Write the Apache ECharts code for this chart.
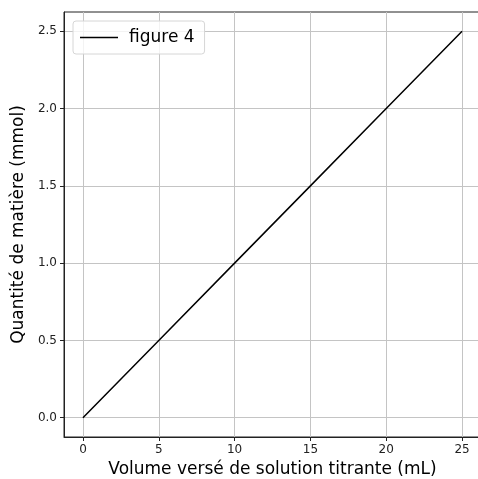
<!DOCTYPE html>
<html>
<head>
<meta charset="utf-8">
<script src="https://cdn.jsdelivr.net/npm/echarts@6/dist/echarts.min.js"></script>
<style>
  html, body { margin: 0; padding: 0; background: #fff; }
  #chart { width: 478px; height: 479px; }
</style>
</head>
<body>
<div id="chart"></div>
<script>
// données
const volume = [0, 5, 10, 15, 20, 25];
const quantite = [0, 0.5, 1.0, 1.5, 2.0, 2.5];
const xTicks = [0, 5, 10, 15, 20, 25];
const yTicks = [0, 0.5, 1.0, 1.5, 2.0, 2.5];

const font = 'DejaVu Sans';
const gridColor = '#c4c4c4';
const spineColor = '#222';

const myChart = echarts.init(document.getElementById('chart'), null, { renderer: 'canvas' });

const option = {
  animation: false,
  backgroundColor: '#fff',
  grid: {
    left: 64,
    right: -3,
    top: 12,
    bottom: 42,
    show: true,
    borderColor: spineColor,
    borderWidth: 1,
    containLabel: false,
    outerBoundsMode: 'none'
  },
  legend: {
    left: 73,
    top: 21,
    orient: 'vertical',
    padding: [8, 10, 8, 7],
    icon: 'rect',
    itemWidth: 38,
    itemHeight: 1.5,
    itemGap: 14,
    itemStyle: { color: '#000' },
    borderColor: '#d6d6d6',
    borderWidth: 1,
    borderRadius: 3,
    backgroundColor: 'rgba(255,255,255,0.8)',
    textStyle: { fontFamily: font, fontSize: 17, color: '#000', padding: [0, 0, 0, 6], lineHeight: 16 },
    data: [{ name: 'figure 4' }]
  },
  xAxis: {
    type: 'value',
    min: -1.25,
    max: 26.25,
    name: 'Volume versé de solution titrante (mL)',
    nameLocation: 'middle',
    nameGap: 24,
    nameTextStyle: { fontFamily: font, fontSize: 17, color: '#000' },
    axisLine: { show: true, onZero: false, lineStyle: { color: spineColor, width: 1 } },
    axisTick: { show: true, length: 4, customValues: xTicks, lineStyle: { color: spineColor } },
    axisLabel: {
      customValues: xTicks,
      fontFamily: font, fontSize: 12, color: '#222', margin: 7,
      formatter: v => String(v)
    },
    splitLine: { show: true, lineStyle: { color: gridColor, width: 1 } }
  },
  yAxis: {
    type: 'value',
    min: -0.125,
    max: 2.625,
    name: 'Quantité de matière (mmol)',
    nameLocation: 'middle',
    nameGap: 35,
    nameTextStyle: { fontFamily: font, fontSize: 17, color: '#000' },
    axisLine: { show: true, onZero: false, lineStyle: { color: spineColor, width: 1 } },
    axisTick: { show: true, length: 4, customValues: yTicks, lineStyle: { color: spineColor } },
    axisLabel: {
      customValues: yTicks,
      fontFamily: font, fontSize: 12, color: '#222', margin: 7,
      formatter: v => v.toFixed(1)
    },
    splitLine: { show: true, lineStyle: { color: gridColor, width: 1 } }
  },
  series: [
    {
      name: 'figure 4',
      type: 'line',
      symbol: 'none',
      lineStyle: { color: '#000', width: 1.5 },
      itemStyle: { color: '#000' },
      data: volume.map((v, i) => [v, quantite[i]])
    }
  ]
};

myChart.setOption(option);
</script>
</body>
</html>
